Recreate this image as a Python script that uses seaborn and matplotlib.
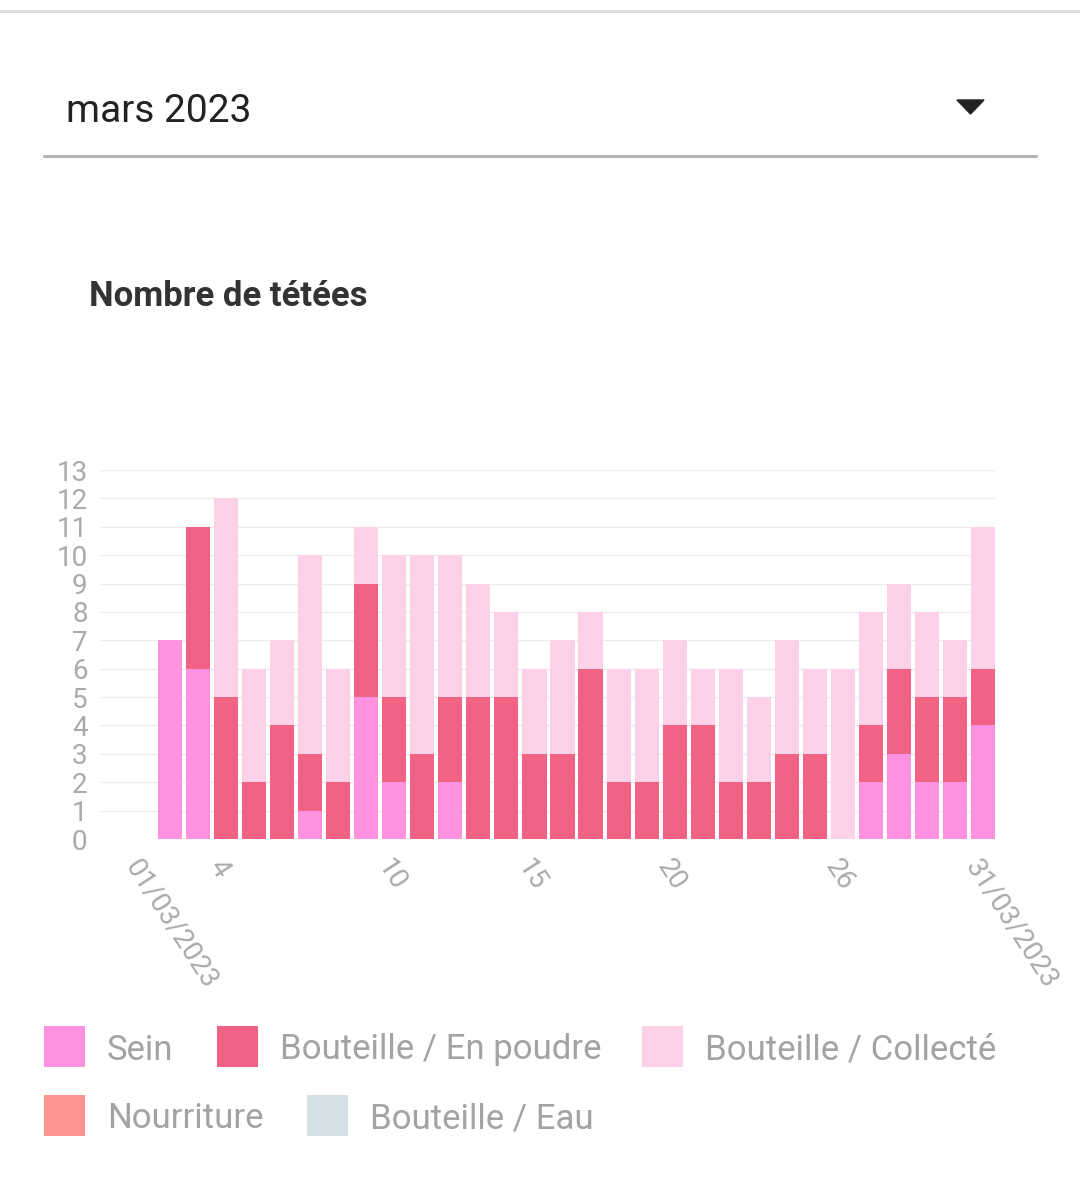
import numpy as np
import pandas as pd
import matplotlib
matplotlib.use("Agg")
import matplotlib.pyplot as plt
from matplotlib.lines import Line2D
from matplotlib.patches import Rectangle, Polygon
import seaborn as sns

# ---- data ----
days = list(range(1, 32))
sein = [0, 7, 6, 0, 0, 0, 1, 0, 5, 2, 0, 2, 0, 0, 0, 0, 0, 0, 0, 0, 0, 0, 0, 0, 0, 0, 2, 3, 2, 2, 4]
poudre = [0, 0, 5, 5, 2, 4, 2, 2, 4, 3, 3, 3, 5, 5, 3, 3, 6, 2, 2, 4, 4, 2, 2, 3, 3, 0, 2, 3, 3, 3, 2]
collecte = [0, 0, 0, 7, 4, 3, 7, 4, 2, 5, 7, 5, 4, 3, 3, 4, 2, 4, 4, 3, 2, 4, 3, 4, 3, 6, 4, 3, 3, 2, 5]
nourriture = [0] * 31
eau = [0] * 31

series_names = ["Sein", "Bouteille / En poudre", "Bouteille / Collecté", "Nourriture", "Bouteille / Eau"]
series_colors = ["#FF91E0", "#F06385", "#FDD2E9", "#FF9591", "#D3E1E5"]
tick_days = [1, 4, 10, 15, 20, 26, 31]
tick_labels = ["01/03/2023", "4", "10", "15", "20", "26", "31/03/2023"]

W, H = 1080, 1197

sns.set_theme(style="white")
plt.rcParams["font.family"] = ["Roboto", "DejaVu Sans"]

df = pd.DataFrame({
    "day": [str(d) for d in days],
    "Sein": sein, "Poudre": poudre, "Collecte": collecte,
    "Nourriture": nourriture, "Eau": eau,
})
stack_cols = ["Sein", "Poudre", "Collecte", "Nourriture", "Eau"]
cum = df[stack_cols].cumsum(axis=1)

fig = plt.figure(figsize=(W / 100, H / 100), dpi=100)
fig.patch.set_facecolor("white")
ax = fig.add_axes([100 / W, (H - 839) / H, 895 / W, 369 / H])

order = [str(d) for d in days]
for i in reversed(range(len(stack_cols))):
    sns.barplot(x=df["day"], y=cum.iloc[:, i], order=order, color=series_colors[i],
                width=0.86, saturation=1, linewidth=0, ax=ax, errorbar=None)

tick_color = "#aaaaaa"
ax.set_xlim(-1.5, 30.43)
ax.set_ylim(0, 13)
ax.set_yticks(range(0, 14))
ax.set_yticklabels([str(v) for v in range(0, 14)], fontsize=20, color=tick_color)
ax.yaxis.grid(True, color="#ececec", linewidth=1)
ax.set_axisbelow(True)
for s in ax.spines.values():
    s.set_visible(False)
ax.tick_params(axis="y", length=0, pad=9)
ax.tick_params(axis="x", length=0, pad=11)
ax.set_xlabel("")
ax.set_ylabel("")
ax.set_xticks([d - 1 for d in tick_days])
ax.set_xticklabels(tick_labels, rotation=-57, ha="left", va="top", rotation_mode="anchor",
                   fontsize=20, color=tick_color)

# ---- header UI ----
fig.add_artist(Line2D([0, 1], [1 - 11 / H] * 2, color="#dcdcdc", lw=2.2, transform=fig.transFigure))
fig.text(66 / W, 1 - 111 / H, "mars 2023", fontsize=28, va="center", ha="left", color="#222222")
fig.add_artist(Polygon([[957 / W, 1 - 100 / H], [984 / W, 1 - 100 / H], [970.5 / W, 1 - 114 / H]],
                       closed=True, color="#222222", transform=fig.transFigure))
fig.add_artist(Line2D([44 / W, 1036 / W], [1 - 156 / H] * 2, color="#b3b3b3", lw=2.2,
                      transform=fig.transFigure))
fig.text(89 / W, 1 - 297 / H, "Nombre de tétées", fontsize=25, fontweight="bold",
         va="center", ha="left", color="#333333")

# ---- legend ----
legend_pos = [(44, 1026), (217, 1026), (642, 1026), (44, 1095), (307, 1095)]
for (lx, ly), name, col in zip(legend_pos, series_names, series_colors):
    fig.add_artist(Rectangle((lx / W, 1 - (ly + 41) / H), 41 / W, 41 / H, color=col,
                             transform=fig.transFigure, lw=0))
    fig.text((lx + 63) / W, 1 - (ly + 24) / H, name, fontsize=25, color="#a3a3a3",
             va="center", ha="left")

fig.savefig("out.png", dpi=100, facecolor="white")
